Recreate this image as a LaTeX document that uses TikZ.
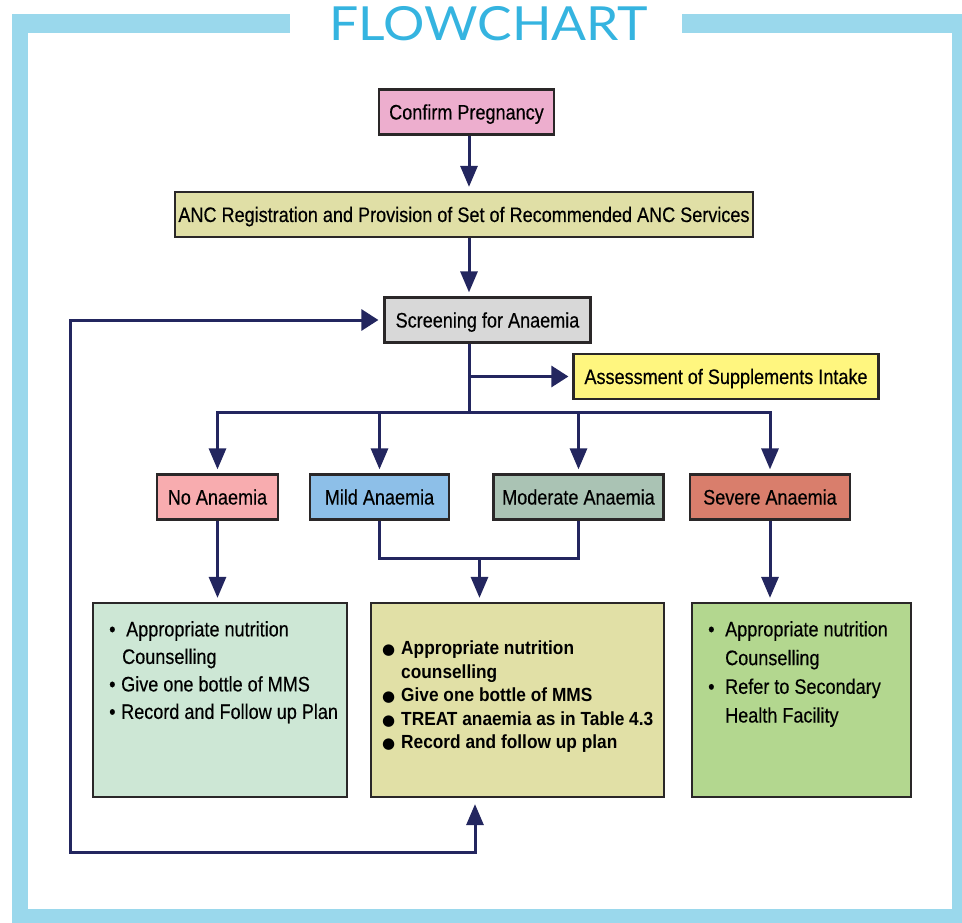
\documentclass[tikz,border=0pt]{standalone}
\usepackage{fontspec}
\setmainfont{Liberation Sans}[FakeStretch=0.86,FakeBold=0.35]
\newfontfamily\titlefont{Lato}[FakeStretch=1.1]
\newfontfamily\boldfont{Liberation Sans}[FakeStretch=0.91]
\newfontfamily\dotfont{DejaVu Sans}
\usetikzlibrary{arrows.meta,positioning,calc}

\definecolor{framecol}{HTML}{9AD8EC}
\definecolor{titlecol}{HTML}{35B4E0}
\definecolor{navy}{HTML}{23265F}
\definecolor{boxline}{HTML}{2A2728}
\definecolor{pinkfill}{HTML}{EDAECE}
\definecolor{khakifill}{HTML}{E0DFA6}
\definecolor{greyfill}{HTML}{D8D8D8}
\definecolor{yellowfill}{HTML}{FFF67F}
\definecolor{nofill}{HTML}{F8ACAF}
\definecolor{mildfill}{HTML}{8DBFE8}
\definecolor{modfill}{HTML}{AAC3B4}
\definecolor{sevfill}{HTML}{D97E6C}
\definecolor{mintfill}{HTML}{CDE7D5}
\definecolor{olivefill}{HTML}{E1E0A6}
\definecolor{greenfill}{HTML}{B3D78F}

\begin{document}
\begin{tikzpicture}[x=1pt, y=-1pt,
    box/.style={draw=boxline, line width=2.2pt, minimum height=45pt, inner sep=0pt,
        text height=15pt, text depth=0pt, font=\fontsize{21}{25}\selectfont},
    bigbox/.style={draw=boxline, line width=2.2pt, minimum height=194pt, inner sep=0pt},
    list/.style={anchor=north west, inner sep=0pt, align=left},
    link/.style={draw=navy, line width=3pt},
    flow/.style={link, -{Triangle[length=21pt,width=17pt]}, shorten >=4pt},
    flowh/.style={link, -{Triangle[length=17pt,width=21pt]}, shorten >=4pt}]
    \useasboundingbox (0,0) rectangle (962,923);

    % Frame and title
    \fill[framecol] (12,14) rectangle (290,33);
    \fill[framecol] (682,14) rectangle (962,33);
    \fill[framecol] (12,14) rectangle (28,923);
    \fill[framecol] (952,14) rectangle (962,923);
    \fill[framecol] (12,909) rectangle (962,923);
    \node[anchor=base, inner sep=0pt, text=titlecol, font=\titlefont\fontsize{47}{47}\selectfont]
        (title) at (489,41) {FLOWCHART};

    % Main steps
    \node[box, fill=pinkfill, minimum width=175pt] (confirm) at (466.5,112) {Confirm Pregnancy};
    \node[box, fill=khakifill, minimum width=578pt] (anc) at (464,214.5)
        {ANC Registration and Provision of Set of Recommended ANC Services};
    \node[box, fill=greyfill, minimum width=206pt] (screen) at (487.5,320) {Screening for Anaemia};
    \node[box, fill=yellowfill, minimum width=305pt] (assess) at (726,376.5)
        {Assessment of Supplements Intake};

    % Anaemia levels
    \node[box, fill=nofill, minimum width=121pt] (no) at (217.5,497) {No Anaemia};
    \node[box, fill=mildfill, minimum width=139pt] (mild) at (379.5,497) {Mild Anaemia};
    \node[box, fill=modfill, minimum width=170pt] (moderate) at (578.5,497) {Moderate Anaemia};
    \node[box, fill=sevfill, minimum width=160pt] (severe) at (770,497) {Severe Anaemia};

    % Actions
    \node[bigbox, fill=mintfill, minimum width=254pt] (actno) at (220,700) {};
    \node[bigbox, fill=olivefill, minimum width=293pt] (acttreat) at (517.5,700) {};
    \node[bigbox, fill=greenfill, minimum width=219pt] (actrefer) at (801.5,700) {};

    \node[list, font=\fontsize{21}{27.5}\selectfont] (listno) at (109,621)
        {\makebox[17pt][l]{•}Appropriate nutrition\\
         \hspace*{13pt}Counselling\\
         \makebox[12pt][l]{•}Give one bottle of MMS\\
         \makebox[12pt][l]{•}Record and Follow up Plan};
    \node[list, font=\boldfont\bfseries\fontsize{19}{23.5}\selectfont] (listtreat) at (382,641)
        {\makebox[19pt][l]{\dotfont\fontsize{15}{15}\selectfont ●}Appropriate nutrition\\
         \hspace*{19pt}counselling\\
         \makebox[19pt][l]{\dotfont\fontsize{15}{15}\selectfont ●}Give one bottle of MMS\\
         \makebox[19pt][l]{\dotfont\fontsize{15}{15}\selectfont ●}TREAT anaemia as in Table 4.3\\
         \makebox[19pt][l]{\dotfont\fontsize{15}{15}\selectfont ●}Record and follow up plan};
    \node[list, font=\fontsize{21}{28.7}\selectfont] (listrefer) at (708,621)
        {\makebox[17pt][l]{•}Appropriate nutrition\\
         \hspace*{17pt}Counselling\\
         \makebox[17pt][l]{•}Refer to Secondary\\
         \hspace*{17pt}Health Facility};

    % Connectors
    \coordinate (spine) at (469,412);
    \coordinate (join) at (479.5,558);
    \coordinate (back) at (70,852);
    \coordinate (loopup) at (475,852);

    \draw[flow] (spine |- confirm.south) -- (spine |- anc.north);
    \draw[flow] (spine |- anc.south) -- (spine |- screen.north);
    \draw[link] (spine |- screen.south) -- (spine);
    \draw[flowh] (spine |- assess.west) -- (assess.west);
    \foreach \lvl in {no,mild,moderate,severe}
        \draw[flow] (spine) -| (\lvl.north);

    \draw[flow] (no.south) -- (no.south |- actno.north);
    \draw[link] (mild.south) |- (join) -| (moderate.south);
    \draw[flow] (join) -- (join |- acttreat.north);
    \draw[flow] (severe.south) -- (severe.south |- actrefer.north);

    % Return to screening
    \draw[link, {Triangle[length=21pt,width=17pt]}-{Triangle[length=17pt,width=21pt]},
        shorten <=6pt, shorten >=5pt]
        (loopup |- acttreat.south) -- (loopup) -- (back) |- (screen.west);
\end{tikzpicture}
\end{document}
